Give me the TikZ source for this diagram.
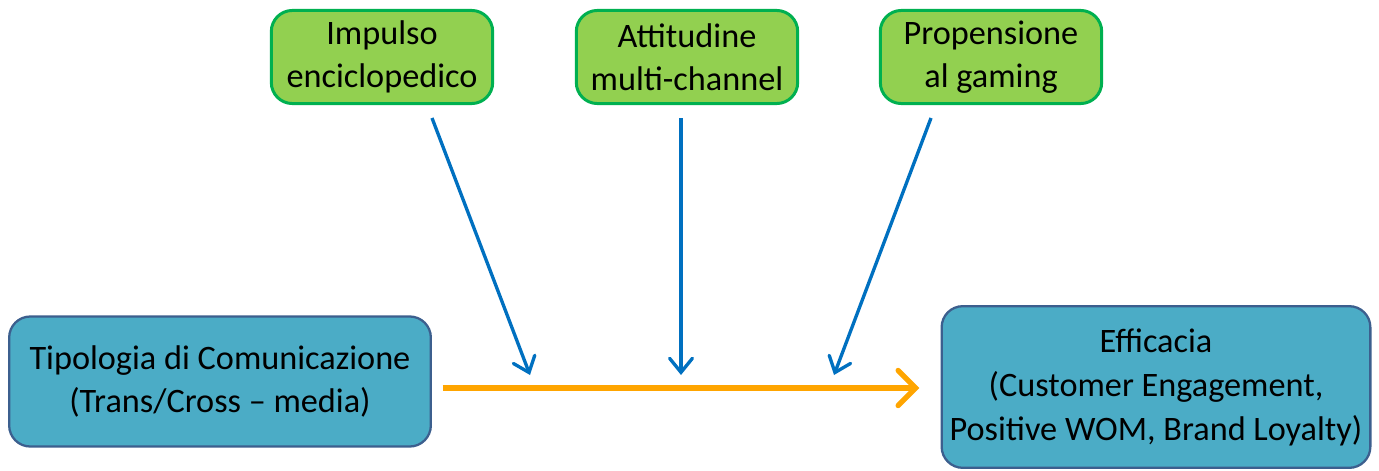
\documentclass[tikz,border=0pt]{standalone}
\usepackage{fontspec}
\setmainfont{Carlito}
\usepackage{xcolor}
\usepackage{tikz}
\usetikzlibrary{arrows.meta,positioning}
\definecolor{factorfill}{HTML}{92D050}
\definecolor{factordraw}{HTML}{00B050}
\definecolor{mainfill}{HTML}{4BACC6}
\definecolor{maindraw}{HTML}{3C5F8E}
\definecolor{linkorange}{HTML}{FFA500}
\definecolor{linkblue}{HTML}{0070C0}
\tikzset{
  factornode/.style={
    rectangle, rounded corners=12pt, draw=factordraw, line width=1.7pt,
    fill=factorfill, minimum width=126pt, minimum height=53pt,
    align=center, inner sep=0pt, font=\fontsize{19.5}{24.5}\selectfont
  },
  mainnode/.style={
    rectangle, rounded corners=12pt, draw=maindraw, line width=1.3pt,
    fill=mainfill, align=center, inner sep=0pt,
    font=\fontsize{19.5}{25}\selectfont
  },
  mainarrow/.style={-{Straight Barb[length=10pt,width=20pt,line cap=round]},
    line width=3pt, color=linkorange},
  modarrow/.style={-{Straight Barb[length=8pt,width=13pt,line cap=round]},
    line width=1.9pt, color=linkblue},
}
\begin{document}
\begin{tikzpicture}[x=0.02cm,y=-0.02cm]
  \useasboundingbox (0,0) rectangle (1379,470);

  \node[factornode] (impulso) at (382,57) {Impulso\\enciclopedico};
  \node[factornode] (attitudine) at (687,57) {Attitudine\\multi-channel};
  \node[factornode] (propensione) at (991,57) {Propensione\\al gaming};

  \node[mainnode, minimum width=240pt, minimum height=74pt] (tipologia) at (220,381.5)
    {Tipologia di Comunicazione\\(Trans/Cross -- media)};
  \node[mainnode, minimum width=244pt, minimum height=92pt] (efficacia) at (1156,387)
    {Efficacia\\(Customer Engagement,\\Positive WOM, Brand Loyalty)};

  % free ends of the moderating arrows
  \coordinate (from1) at (432,118);
  \coordinate (from2) at (681,118);
  \coordinate (from3) at (931,118);
  \coordinate (to1) at (530,375);
  \coordinate (to2) at (681,375);
  \coordinate (to3) at (834,375);

  \draw[mainarrow] ([xshift=6]tipologia.east |- 0,388) -- ([xshift=-12]efficacia.west |- 0,388);
  \foreach \a/\b in {from1/to1,from2/to2,from3/to3}
    \draw[modarrow] (\a) -- (\b);
\end{tikzpicture}
\end{document}
